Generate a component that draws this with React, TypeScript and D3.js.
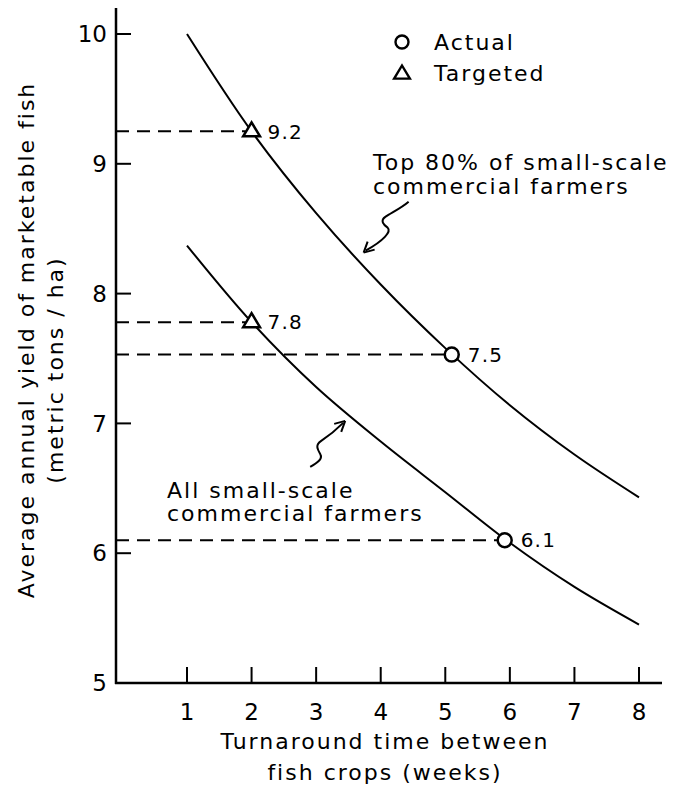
import React from "react";
import * as d3 from "d3";

const weeks = [1, 2, 3, 4, 5, 6, 7, 8];
const topCurve = [10.0, 9.25, 8.62, 8.07, 7.58, 7.14, 6.76, 6.43];
const allCurve = [8.37, 7.78, 7.28, 6.86, 6.47, 6.08, 5.74, 5.45];
const yTicks = [5, 6, 7, 8, 9, 10];
const xTicks = [1, 2, 3, 4, 5, 6, 7, 8];
const markers = [
  { kind: "triangle", x: 2, y: 9.25, label: "9.2" },
  { kind: "triangle", x: 2, y: 7.78, label: "7.8" },
  { kind: "circle", x: 5.1, y: 7.53, label: "7.5" },
  { kind: "circle", x: 5.92, y: 6.1, label: "6.1" },
];
const legendItems = [
  { kind: "circle", label: "Actual" },
  { kind: "triangle", label: "Targeted" },
];
const yTitle = ["Average annual yield of marketable fish", "(metric tons / ha)"];
const xTitle = ["Turnaround time between", "fish crops (weeks)"];
const topLabel = ["Top 80% of small-scale", "commercial farmers"];
const allLabel = ["All small-scale", "commercial farmers"];

const W = 694;
const H = 792;
const FONT = "'DejaVu Sans', sans-serif";

export default function App() {
  const x = d3.scaleLinear().domain([1, 8]).range([187, 639]);
  const y = d3.scaleLinear().domain([5, 10]).range([683, 34]);
  const axisX0 = 116;
  const axisY0 = 683;

  const line = d3
    .line<number>()
    .x((_, i) => x(weeks[i]))
    .y((d) => y(d))
    .curve(d3.curveCatmullRom.alpha(0.5));

  const tri = (cx: number, cy: number, s: number) =>
    `M${cx},${cy - s} L${cx + s * 1.05},${cy + s * 0.75} L${cx - s * 1.05},${cy + s * 0.75} Z`;

  // annotation arrows anchored to curve points
  const topTip = { x: x(3.72) + 1, y: y(8.3) - 2 };
  const allTip = { x: x(3.45), y: y(7.05) + 4 };

  return (
    <svg
      width={W}
      height={H}
      style={{ position: "absolute", left: 0, top: 0, background: "#fff" }}
      fontFamily={FONT}
    >
      {/* axes */}
      <line x1={axisX0} y1={8} x2={axisX0} y2={axisY0 + 1} stroke="#000" strokeWidth={2.5} />
      <line x1={axisX0 - 1} y1={axisY0} x2={662} y2={axisY0} stroke="#000" strokeWidth={2.5} />
      {yTicks.map((t) => (
        <g key={"yt" + t}>
          {t !== 5 && (
            <line x1={axisX0} x2={axisX0 + 15} y1={y(t)} y2={y(t)} stroke="#000" strokeWidth={2} />
          )}
          <text x={107} y={y(t)} dy="0.36em" textAnchor="end" fontSize={23}>
            {t}
          </text>
        </g>
      ))}
      {xTicks.map((t) => (
        <g key={"xt" + t}>
          <line x1={x(t)} x2={x(t)} y1={axisY0} y2={axisY0 - 16} stroke="#000" strokeWidth={2} />
          <text x={x(t)} y={712} dy="0.36em" textAnchor="middle" fontSize={23}>
            {t}
          </text>
        </g>
      ))}

      {/* axis titles */}
      <g transform="translate(26,340) rotate(-90)">
        <text textAnchor="middle" dy="0.36em" fontSize={22} letterSpacing={2}>
          {yTitle[0]}
        </text>
      </g>
      <g transform="translate(55,370) rotate(-90)">
        <text textAnchor="middle" dy="0.36em" fontSize={22} letterSpacing={2}>
          {yTitle[1]}
        </text>
      </g>
      {xTitle.map((s, i) => (
        <text key={s} x={385} y={741 + i * 31} dy="0.36em" textAnchor="middle" fontSize={22} letterSpacing={2}>
          {s}
        </text>
      ))}

      {/* dashed reference lines */}
      {markers.map((m) => (
        <line
          key={"d" + m.label}
          x1={axisX0}
          x2={x(m.x) - 6}
          y1={y(m.y)}
          y2={y(m.y)}
          stroke="#000"
          strokeWidth={2}
          strokeDasharray="13,8"
        />
      ))}

      {/* curves */}
      <path d={line(topCurve) || ""} fill="none" stroke="#000" strokeWidth={2} />
      <path d={line(allCurve) || ""} fill="none" stroke="#000" strokeWidth={2} />

      {/* markers */}
      {markers.map((m) => (
        <g key={"m" + m.label}>
          {m.kind === "circle" ? (
            <circle cx={x(m.x)} cy={y(m.y)} r={7} fill="#fff" stroke="#000" strokeWidth={2.5} />
          ) : (
            <path d={tri(x(m.x), y(m.y) - 1, 8)} fill="#fff" stroke="#000" strokeWidth={2.5} />
          )}
          <text x={x(m.x) + 16} y={y(m.y)} dy="0.36em" fontSize={20} letterSpacing={1.2}>
            {m.label}
          </text>
        </g>
      ))}

      {/* legend */}
      {legendItems.map((l, i) => (
        <g key={l.label} transform={`translate(402,${42 + i * 31})`}>
          {l.kind === "circle" ? (
            <circle cx={0} cy={0} r={6.5} fill="none" stroke="#000" strokeWidth={2.4} />
          ) : (
            <path d={tri(0, 0, 7.5)} fill="none" stroke="#000" strokeWidth={2.4} />
          )}
          <text x={32} y={0} dy="0.36em" fontSize={22} letterSpacing={2}>
            {l.label}
          </text>
        </g>
      ))}

      {/* annotations */}
      {topLabel.map((s, i) => (
        <text key={"tl" + i} x={373} y={162 + i * 24} dy="0.36em" fontSize={22} letterSpacing={2}>
          {s}
        </text>
      ))}
      {allLabel.map((s, i) => (
        <text key={"al" + i} x={167} y={490 + i * 23} dy="0.36em" fontSize={22} letterSpacing={2}>
          {s}
        </text>
      ))}

      {/* squiggle arrows */}
      <g transform={`translate(${topTip.x},${topTip.y})`} fill="none" stroke="#000" strokeWidth={2}>
        <path d="M45,-51 C38,-45 28,-40 22,-36 C16,-32 20,-28 24,-25 C28,-21 20,-12 2,-2" />
        <path d="M0,0 L4,-11 M0,0 L11,-3" />
      </g>
      <g transform={`translate(${allTip.x},${allTip.y})`} fill="none" stroke="#000" strokeWidth={2}>
        <path d="M-35,46 C-28,42 -22,38 -25,33 C-28,28 -30,24 -24,20 C-18,16 -10,10 -2,2" />
        <path d="M0,0 L-11,3 M0,0 L-4,11" />
      </g>
    </svg>
  );
}
